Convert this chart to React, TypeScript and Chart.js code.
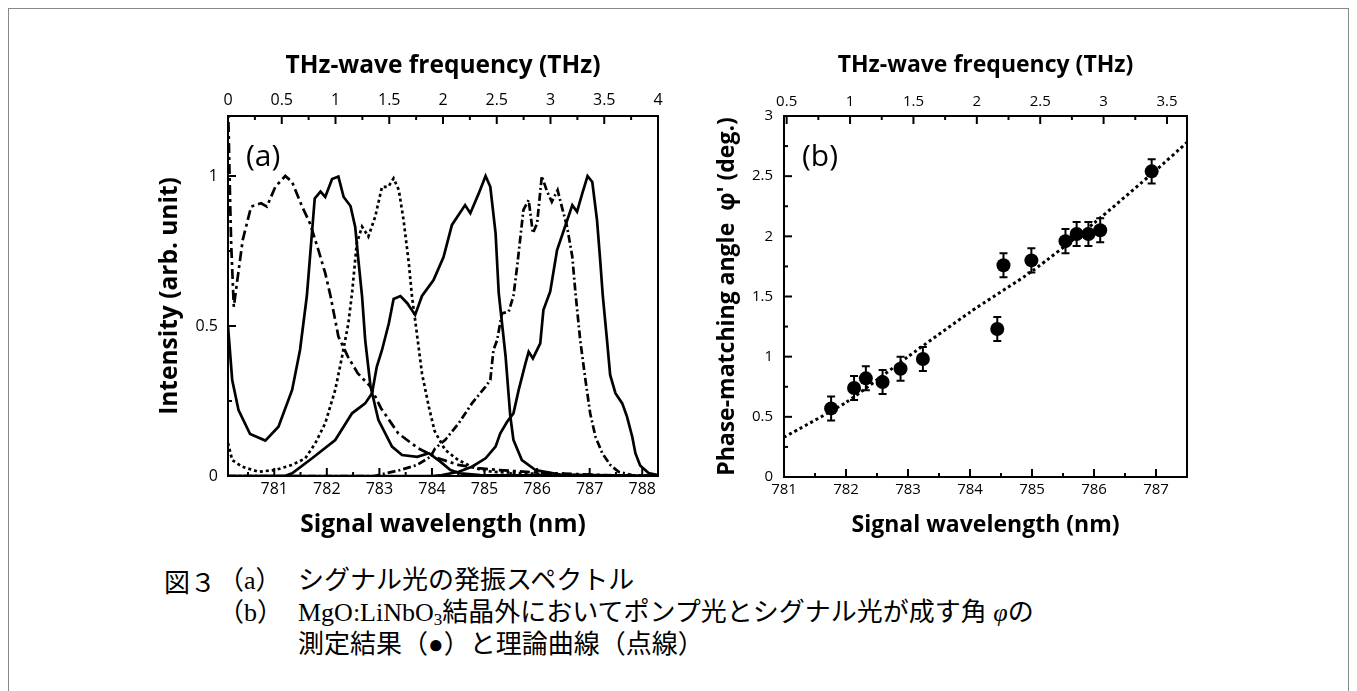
import React, { useEffect, useRef } from 'react';
import { Chart, registerables } from 'chart.js';

Chart.register(...registerables);

const FONT = '"Open Sans", "Noto Sans", sans-serif';

// ---------- Panel (a): oscillation spectra ----------
const waveA1 = [780.12, 780.2, 780.32, 780.54, 780.83, 781.08, 781.34, 781.49, 781.62, 781.77, 781.88, 781.97, 782.1, 782.22, 782.32, 782.45, 782.54, 782.6, 782.67, 782.73, 782.83, 782.98, 783.24, 783.43, 783.72, 783.94, 784.16, 784.35, 784.54, 784.92, 786, 788.3];
const intA1 = [0.5, 0.32, 0.22, 0.14, 0.118, 0.164, 0.287, 0.42, 0.6, 0.925, 0.948, 0.93, 0.99, 0.998, 0.93, 0.9, 0.83, 0.72, 0.6, 0.453, 0.3, 0.187, 0.098, 0.07, 0.064, 0.076, 0.048, 0.02, 0.009, 0.003, 0.002, 0];

const waveA2 = [780.12, 781.2, 781.34, 781.72, 782.16, 782.48, 782.73, 782.86, 782.95, 783.05, 783.18, 783.27, 783.4, 783.53, 783.68, 783.81, 784.03, 784.22, 784.38, 784.63, 784.73, 784.89, 785.02, 785.11, 785.21, 785.27, 785.4, 785.49, 785.55, 785.71, 785.97, 786.44, 788.3];
const intA2 = [0, 0, 0.009, 0.059, 0.12, 0.209, 0.242, 0.276, 0.364, 0.42, 0.509, 0.59, 0.6, 0.576, 0.537, 0.6, 0.653, 0.73, 0.837, 0.903, 0.876, 0.942, 1.0, 0.964, 0.81, 0.61, 0.4, 0.2, 0.12, 0.053, 0.02, 0.005, 0];

const waveA3 = [780.12, 780.16, 780.18, 780.23, 780.28, 780.4, 780.56, 780.75, 780.86, 781.02, 781.21, 781.34, 781.53, 781.68, 781.84, 781.97, 782.07, 782.22, 782.4, 782.59, 782.83, 783.03, 783.36, 783.74, 784.12, 784.5, 784.88, 785.26, 786.02, 787.3, 788.3];
const intA3 = [1.25, 0.92, 0.776, 0.564, 0.63, 0.787, 0.898, 0.909, 0.898, 0.964, 1.0, 0.98, 0.898, 0.842, 0.753, 0.676, 0.6, 0.465, 0.398, 0.342, 0.298, 0.226, 0.142, 0.092, 0.059, 0.037, 0.026, 0.02, 0.011, 0.003, 0];

const waveA4 = [780.12, 780.2, 780.39, 780.7, 781.02, 781.34, 781.59, 781.78, 781.97, 782.16, 782.29, 782.41, 782.48, 782.57, 782.67, 782.79, 782.92, 783.05, 783.17, 783.27, 783.37, 783.46, 783.56, 783.62, 783.68, 783.81, 783.94, 784.05, 784.25, 784.5, 784.82, 785.14, 785.78, 786.5, 788.3];
const intA4 = [0.11, 0.053, 0.031, 0.014, 0.02, 0.037, 0.059, 0.109, 0.176, 0.287, 0.398, 0.509, 0.61, 0.776, 0.831, 0.798, 0.864, 0.964, 0.964, 0.992, 0.953, 0.853, 0.709, 0.598, 0.52, 0.342, 0.231, 0.15, 0.087, 0.053, 0.026, 0.014, 0.009, 0.003, 0];

const waveA5 = [780.12, 782.9, 783.4, 783.72, 783.97, 784.06, 784.25, 784.51, 784.76, 785.02, 785.11, 785.17, 785.24, 785.33, 785.46, 785.55, 785.62, 785.74, 785.84, 785.92, 786.0, 786.09, 786.19, 786.28, 786.39, 786.47, 786.57, 786.67, 786.73, 786.82, 786.92, 787.01, 787.11, 787.24, 787.39, 787.55, 787.8, 788.3];
const intA5 = [0, 0, 0.02, 0.037, 0.064, 0.092, 0.12, 0.176, 0.242, 0.298, 0.32, 0.42, 0.453, 0.542, 0.548, 0.6, 0.698, 0.887, 0.92, 0.809, 0.842, 1.0, 0.948, 0.914, 0.953, 0.898, 0.831, 0.731, 0.61, 0.453, 0.32, 0.209, 0.131, 0.076, 0.037, 0.014, 0.003, 0];

const waveA6 = [780.12, 784.0, 784.19, 784.51, 784.76, 785.02, 785.21, 785.3, 785.43, 785.55, 785.65, 785.78, 785.84, 785.92, 786.06, 786.12, 786.25, 786.38, 786.51, 786.67, 786.76, 786.86, 786.96, 787.05, 787.14, 787.2, 787.25, 787.33, 787.39, 787.49, 787.62, 787.71, 787.81, 787.87, 787.96, 788.12, 788.3];
const intA6 = [0, 0, 0.003, 0.014, 0.031, 0.059, 0.098, 0.142, 0.181, 0.209, 0.287, 0.376, 0.414, 0.392, 0.442, 0.553, 0.615, 0.753, 0.82, 0.903, 0.881, 0.942, 1.0, 0.98, 0.853, 0.72, 0.6, 0.453, 0.337, 0.276, 0.242, 0.198, 0.131, 0.076, 0.035, 0.01, 0.003];

const aWaveTicks = [780.5, 781, 781.5, 782, 782.5, 783, 783.5, 784, 784.5, 785, 785.5, 786, 786.5, 787, 787.5, 788];
const aWaveLabels = [781, 782, 783, 784, 785, 786, 787, 788];
const aFreqTicks = [0, 0.25, 0.5, 0.75, 1, 1.25, 1.5, 1.75, 2, 2.25, 2.5, 2.75, 3, 3.25, 3.5, 3.75, 4];
const aFreqLabels = [0, 0.5, 1, 1.5, 2, 2.5, 3, 3.5, 4];
const aIntTicks = [0, 0.25, 0.5, 0.75, 1];
const aIntLabels = [0, 0.5, 1];

// ---------- Panel (b): phase-matching angle ----------
const bWave = [781.76, 782.13, 782.32, 782.59, 782.88, 783.24, 784.44, 784.54, 784.99, 785.54, 785.72, 785.91, 786.1, 786.93];
const bAngle = [0.57, 0.74, 0.82, 0.79, 0.9, 0.98, 1.23, 1.76, 1.8, 1.96, 2.02, 2.02, 2.05, 2.54];
const bErr = [0.1, 0.1, 0.1, 0.1, 0.1, 0.1, 0.1, 0.1, 0.1, 0.1, 0.1, 0.1, 0.1, 0.1];
const theoryWave = [781, 782, 783, 784, 785, 786, 787, 787.5];
const theoryAngle = [0.33, 0.62, 1.0, 1.37, 1.71, 2.11, 2.55, 2.78];

const bWaveTicks = [781, 781.5, 782, 782.5, 783, 783.5, 784, 784.5, 785, 785.5, 786, 786.5, 787];
const bWaveLabels = [781, 782, 783, 784, 785, 786, 787];
const bFreqTicks = [0.5, 0.75, 1, 1.25, 1.5, 1.75, 2, 2.25, 2.5, 2.75, 3, 3.25, 3.5];
const bFreqLabels = [0.5, 1, 1.5, 2, 2.5, 3, 3.5];
const bAngleTicks = [0, 0.25, 0.5, 0.75, 1, 1.25, 1.5, 1.75, 2, 2.25, 2.5, 2.75, 3];
const bAngleLabels = [0, 0.5, 1, 1.5, 2, 2.5, 3];

const pts = (xs: number[], ys: number[]) => xs.map((x, i) => ({ x, y: ys[i] }));
const has = (list: number[], v: number) => list.some((l) => Math.abs(l - v) < 1e-6);

function axis(
  position: 'bottom' | 'top' | 'left',
  min: number,
  max: number,
  ticks: number[],
  labels: number[],
  size: number,
  pad: number,
  title: string,
  tickSize: number,
  titleSize: number
) {
  const horizontal = position !== 'left';
  return {
    type: 'linear',
    position,
    min,
    max,
    afterBuildTicks: (s: any) => {
      s.ticks = ticks.map((v) => ({ value: v }));
    },
    afterFit: (s: any) => {
      if (horizontal) s.height = size;
      else s.width = size;
    },
    grid: { display: false, drawTicks: false },
    border: { display: false },
    ticks: {
      padding: pad,
      font: { family: FONT, size: tickSize },
      color: '#000',
      autoSkip: false,
      maxRotation: 0,
      minRotation: 0,
      callback: (v: any) => (has(labels, Number(v)) ? String(v) : ''),
    },
    title: {
      display: true,
      text: title,
      font: { family: FONT, size: titleSize, weight: 'bold' },
      color: '#000',
      padding: 0,
    },
  };
}

const framePlugin = {
  id: 'frameTicks',
  afterDatasetsDraw(chart: any) {
    const { ctx, chartArea: ca } = chart;
    ctx.save();
    ctx.strokeStyle = '#000';
    ctx.lineWidth = 2;
    ctx.strokeRect(ca.left, ca.top, ca.right - ca.left, ca.bottom - ca.top);
    Object.keys(chart.scales).forEach((id) => {
      const s = chart.scales[id];
      const pos = s.options.position;
      s.ticks.forEach((t: any) => {
        const len = t.label !== '' ? 8 : 4;
        const p = s.getPixelForValue(t.value);
        ctx.beginPath();
        if (pos === 'bottom') {
          ctx.moveTo(p, ca.bottom);
          ctx.lineTo(p, ca.bottom - len);
        } else if (pos === 'top') {
          ctx.moveTo(p, ca.top);
          ctx.lineTo(p, ca.top + len);
        } else if (pos === 'left') {
          ctx.moveTo(ca.left, p);
          ctx.lineTo(ca.left + len, p);
        }
        ctx.stroke();
      });
    });
    const lab = chart.options.plugins.panelLabel;
    if (lab) {
      ctx.fillStyle = '#000';
      ctx.font = `30px ${FONT}`;
      ctx.textAlign = 'left';
      ctx.textBaseline = 'middle';
      ctx.fillText(lab.text, ca.left + lab.dx, ca.top + lab.dy);
    }
    ctx.restore();
  },
};

const errorBarPlugin = {
  id: 'errorBars',
  afterDatasetsDraw(chart: any) {
    if (!chart.options.plugins.errorBars) return;
    const { ctx } = chart;
    const xs = chart.scales.x;
    const ys = chart.scales.y;
    ctx.save();
    ctx.strokeStyle = '#000';
    ctx.lineWidth = 2;
    bWave.forEach((w, i) => {
      const x = xs.getPixelForValue(w);
      const y1 = ys.getPixelForValue(bAngle[i] - bErr[i]);
      const y2 = ys.getPixelForValue(bAngle[i] + bErr[i]);
      ctx.beginPath();
      ctx.moveTo(x, y1);
      ctx.lineTo(x, y2);
      ctx.moveTo(x - 4, y1);
      ctx.lineTo(x + 4, y1);
      ctx.moveTo(x - 4, y2);
      ctx.lineTo(x + 4, y2);
      ctx.stroke();
    });
    ctx.restore();
  },
};

const lineDs = (xs: number[], ys: number[], dash: number[]) => ({
  data: pts(xs, ys),
  borderColor: '#000',
  borderWidth: 2.7,
  borderDash: dash,
  pointRadius: 0,
  fill: false,
  tension: 0,
});

export default function App() {
  const refA = useRef<HTMLCanvasElement>(null);
  const refB = useRef<HTMLCanvasElement>(null);

  useEffect(() => {
    const chartA = new Chart(refA.current as HTMLCanvasElement, {
      type: 'line',
      data: {
        datasets: [
          lineDs(waveA1, intA1, []),
          lineDs(waveA2, intA2, []),
          lineDs(waveA6, intA6, []),
          lineDs(waveA3, intA3, [10, 4, 3, 4]),
          lineDs(waveA4, intA4, [3, 3]),
          lineDs(waveA5, intA5, [8, 3, 2, 3]),
        ] as any,
      },
      options: {
        responsive: false,
        animation: false,
        events: [],
        layout: { padding: { left: 0, right: 30, top: 11, bottom: 5 } },
        plugins: {
          legend: { display: false },
          tooltip: { enabled: false },
          panelLabel: { text: '(a)', dx: 18, dy: 41 },
        } as any,
        scales: {
          x: axis('bottom', 780.12, 788.3, aWaveTicks, aWaveLabels, 64, 4, 'Signal wavelength (nm)', 16, 24.5),
          xTop: axis('top', 0, 4, aFreqTicks, aFreqLabels, 65, 6, 'THz-wave frequency (THz)', 16, 24.5),
          y: axis('left', 0, 1.2, aIntTicks, aIntLabels, 73, 10, 'Intensity (arb. unit)', 16, 24.5),
        } as any,
      },
      plugins: [framePlugin],
    });

    const chartB = new Chart(refB.current as HTMLCanvasElement, {
      type: 'line',
      data: {
        datasets: [
          {
            data: pts(bWave, bAngle),
            showLine: false,
            pointRadius: 7,
            pointBackgroundColor: '#000',
            pointBorderWidth: 0,
            borderColor: '#000',
            order: 0,
          },
          {
            data: pts(theoryWave, theoryAngle),
            borderColor: '#000',
            borderWidth: 3,
            borderDash: [3, 3],
            pointRadius: 0,
            fill: false,
            tension: 0.2,
            order: 1,
          },
        ] as any,
      },
      options: {
        responsive: false,
        animation: false,
        events: [],
        layout: { padding: { left: 0, right: 30, top: 12, bottom: 6 } },
        plugins: {
          legend: { display: false },
          tooltip: { enabled: false },
          panelLabel: { text: '(b)', dx: 18, dy: 41 },
          errorBars: true,
        } as any,
        scales: {
          x: axis('bottom', 781, 787.5, bWaveTicks, bWaveLabels, 62, 4, 'Signal wavelength (nm)', 15, 23),
          xTop: axis('top', 0.479, 3.658, bFreqTicks, bFreqLabels, 64, 5.5, 'THz-wave frequency (THz)', 15, 23),
          y: axis('left', 0, 3, bAngleTicks, bAngleLabels, 70, 11, "Phase-matching angle  φ' (deg.)", 15, 23),
        } as any,
      },
      plugins: [framePlugin, errorBarPlugin],
    });

    return () => {
      chartA.destroy();
      chartB.destroy();
    };
  }, []);

  const serif = '"Liberation Serif", "Noto Sans CJK JP", serif';
  const capStyle: React.CSSProperties = {
    position: 'absolute',
    fontFamily: serif,
    fontSize: 26,
    lineHeight: '32px',
    whiteSpace: 'nowrap',
    color: '#000',
  };
  const tag: React.CSSProperties = { display: 'inline-block', width: 80 };

  // container is offset by the 8px body margin
  return (
    <div
      style={{
        position: 'relative',
        width: 1341,
        height: 700,
        border: '1px solid #888',
        boxSizing: 'border-box',
        background: '#fff',
      }}
    >
      <canvas ref={refA} width={533} height={505} style={{ position: 'absolute', left: 146, top: 31 }} />
      <canvas ref={refB} width={503} height={505} style={{ position: 'absolute', left: 705, top: 31 }} />
      <div style={{ ...capStyle, left: 155, top: 556, fontFamily: '"Noto Sans CJK JP", sans-serif' }}>図３</div>
      <div style={{ ...capStyle, left: 209, top: 556 }}>
        <span style={tag}>（a）</span>シグナル光の発振スペクトル
      </div>
      <div style={{ ...capStyle, left: 209, top: 588 }}>
        <span style={tag}>（b）</span>MgO:LiNbO<sub style={{ fontSize: 17, verticalAlign: '-4px', lineHeight: 0 }}>3</sub>
        結晶外においてポンプ光とシグナル光が成す角 <i>φ</i>の
      </div>
      <div style={{ ...capStyle, left: 289, top: 620 }}>測定結果（●）と理論曲線（点線）</div>
    </div>
  );
}
